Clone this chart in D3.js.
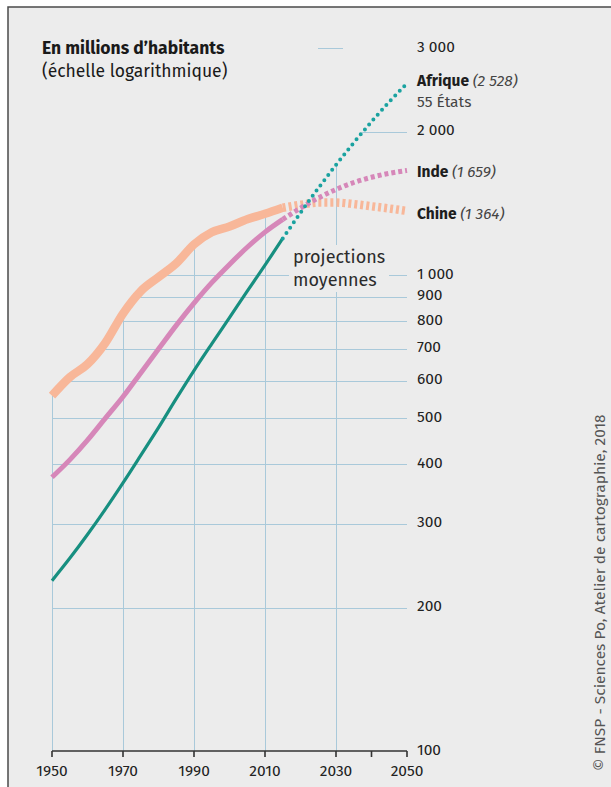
<!DOCTYPE html>
<html lang="fr">
<head>
<meta charset="utf-8">
<script src="https://cdn.jsdelivr.net/npm/d3@7/dist/d3.min.js"></script>
<style>
  html, body { margin: 0; padding: 0; background: #ffffff; }
  svg { display: block; font-family: "Fira Sans", "Open Sans", "Noto Sans", sans-serif; }
</style>
</head>
<body>
<svg id="chart" width="611" height="787"></svg>
<script>
// Population (millions), 5-year steps 1950–2050; values from 2015 on are medium projections
const years   = [1950,1955,1960,1965,1970,1975,1980,1985,1990,1995,2000,2005,2010,2015,2020,2025,2030,2035,2040,2045,2050];
const afrique = [228,254,285,322,366,418,478,550,630,717,814,925,1049,1194,1352,1522,1704,1897,2100,2312,2528];
const inde    = [376,409,450,500,555,623,699,784,873,964,1053,1144,1231,1309,1383,1452,1513,1565,1605,1636,1659];
const chine   = [558,610,650,720,830,925,990,1058,1160,1230,1265,1310,1345,1385,1405,1420,1420,1410,1395,1380,1364];
const projectionStart = 2015;

const yTicks   = [100,200,300,400,500,600,700,800,900,1000,2000,3000];
const gridYs   = [200,300,400,500,600,700,800,900,1000,2000];
const xTicks   = [1950,1970,1990,2010,2030,2040,2050];
const xLabels  = [1950,1970,1990,2010,2030,2050];
const gridXs   = [1950,1970,1990,2010,2030,2050];

const series = [
  { name: "Chine",   total: "1 364", values: chine,   color: "#f8b799", width: 8.5, dash: "3 3",  cap: "butt", dy: 8 },
  { name: "Inde",    total: "1 659", values: inde,    color: "#d687b9", width: 5, dash: "4 3",  cap: "butt", dy: 7 },
  { name: "Afrique", total: "2 528", values: afrique, color: "#178f80", dotColor: "#1aa2a0", width: 3.2, dotWidth: 4, dash: "0 6.5", cap: "round", dy: 3 }
];

const svg = d3.select("#chart");
const W = 611, H = 787;
const bg = "#ececec";
const gridColor = "#a9c9da";

// Frame
svg.append("rect").attr("x", 8).attr("y", 7).attr("width", W).attr("height", H)
  .attr("fill", bg).attr("stroke", "#4a4a4a").attr("stroke-width", 1.5);

const x = d3.scaleLinear().domain([1950, 2050]).range([52, 407]);
const y = d3.scaleLog().domain([100, 3000]).range([751, 48]);

const fmt = v => d3.format(",")(v).replace(/,/g, " ");
const px = v => Math.round(v) + 0.5;

// Clip gridlines to the area under the highest curve
const envelope = years.map((yr, i) => ({ yr, v: d3.max(series, s => s.values[i]) }));
svg.append("defs").append("clipPath").attr("id", "under")
  .append("path")
  .attr("d", d3.area().x(d => x(d.yr)).y0(y(100)).y1(d => y(d.v)).curve(d3.curveMonotoneX)(envelope));

const grid = svg.append("g").attr("clip-path", "url(#under)")
  .attr("stroke", gridColor).attr("stroke-width", 1).attr("shape-rendering", "crispEdges");
grid.selectAll("line.h").data(gridYs).join("line").attr("class", "h")
  .attr("x1", x(1950)).attr("x2", x(2050)).attr("y1", d => px(y(d))).attr("y2", d => px(y(d)));
grid.selectAll("line.v").data(gridXs).join("line").attr("class", "v")
  .attr("x1", d => px(x(d))).attr("x2", d => px(x(d))).attr("y1", y(100)).attr("y2", y(3000));

// short marker next to the 3 000 label
svg.append("line").attr("x1", x(2025)).attr("x2", x(2032)).attr("y1", px(y(3000))).attr("y2", px(y(3000)))
  .attr("stroke", gridColor).attr("stroke-width", 1).attr("shape-rendering", "crispEdges");

// "projections moyennes" on a plain patch over the grid
const projX = 293;
svg.append("rect").attr("x", projX - 4).attr("y", 245).attr("width", 100).attr("height", 47).attr("fill", bg);
const proj = svg.append("text").attr("font-size", 18).attr("fill", "#2b2b2b");
proj.append("tspan").attr("x", projX).attr("y", 263).text("projections");
proj.append("tspan").attr("x", projX).attr("y", 286).text("moyennes");

// Curves
const line = d3.line().x(d => x(d.yr)).y(d => y(d.v)).curve(d3.curveMonotoneX);
series.forEach(s => {
  const pts = years.map((yr, i) => ({ yr, v: s.values[i] }));
  const past = pts.filter(d => d.yr <= projectionStart);
  const future = pts.filter(d => d.yr >= projectionStart);
  svg.append("path").attr("d", line(past)).attr("fill", "none")
    .attr("stroke", s.color).attr("stroke-width", s.width).attr("stroke-linecap", "butt");
  svg.append("path").attr("d", line(future)).attr("fill", "none")
    .attr("stroke", s.dotColor || s.color).attr("stroke-width", s.dotWidth || s.width)
    .attr("stroke-dasharray", s.dash).attr("stroke-linecap", s.cap);
});

// X axis
const ax = svg.append("g").attr("stroke", "#333");
ax.append("line").attr("x1", x(1950)).attr("x2", x(2050)).attr("y1", 751).attr("y2", 751).attr("stroke-width", 1.6);
ax.selectAll("line.t").data(xTicks).join("line").attr("class", "t")
  .attr("x1", d => x(d)).attr("x2", d => x(d)).attr("y1", 751).attr("y2", 757).attr("stroke-width", 1.6);
svg.append("g").selectAll("text").data(xLabels).join("text")
  .attr("x", d => x(d)).attr("y", 776).attr("text-anchor", "middle")
  .attr("font-size", 15.5).attr("fill", "#222").text(d => d);

// Y tick labels on the right
svg.append("g").selectAll("text").data(yTicks).join("text")
  .attr("x", 417).attr("y", d => y(d) + 3.5).attr("font-size", 15.5).attr("fill", "#222")
  .text(d => fmt(d));

// Series labels
const lab = svg.append("g").attr("font-size", 15.5).attr("fill", "#1e1e1e");
const endVal = s => s.values[s.values.length - 1];
series.forEach(s => {
  const t = lab.append("text").attr("x", 417).attr("y", y(endVal(s)) + s.dy);
  t.append("tspan").attr("font-weight", "bold").text(s.name + " ");
  t.append("tspan").attr("font-style", "italic").attr("fill", "#444").text("(" + s.total + ")");
});
lab.append("text").attr("x", 417).attr("y", y(2528) + 24).attr("fill", "#444").text("55 États");

// Title
svg.append("text").attr("x", 42).attr("y", 54).attr("font-size", 17.5).attr("font-weight", "bold")
  .attr("fill", "#1a1a1a").text("En millions d’habitants");
svg.append("text").attr("x", 42).attr("y", 77).attr("font-size", 17.5)
  .attr("fill", "#1a1a1a").text("(échelle logarithmique)");

// Credit
svg.append("text").attr("transform", "translate(605,771) rotate(-90)")
  .attr("font-size", 15.5).attr("fill", "#555")
  .text("© FNSP - Sciences Po, Atelier de cartographie, 2018");
</script>
</body>
</html>
